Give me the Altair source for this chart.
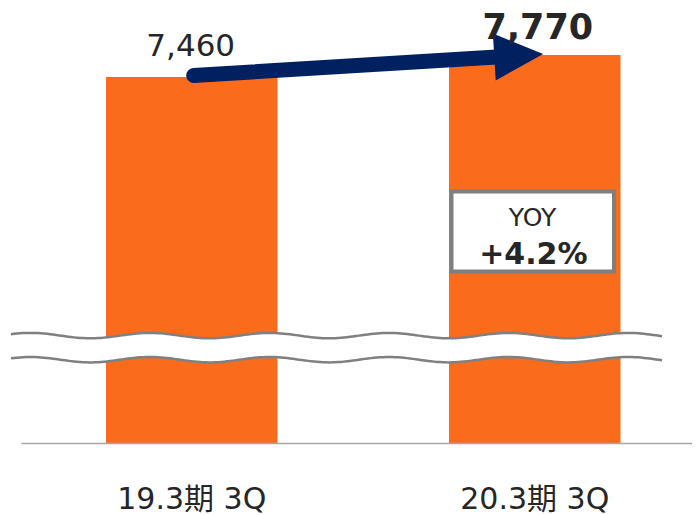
import math
import altair as alt
import pandas as pd

# ---- data ----
categories = ["19.3期 3Q", "20.3期 3Q"]
values = [7460, 7770]
value_labels = ["7,460", "7,770"]
yoy_title = "YOY"
yoy_value = "+4.2%"

# ---- styling ----
ORANGE = "#FA6B1C"
NAVY = "#002060"
TEXT = "#262626"
GRAY = "#808080"
FONT = "DejaVu Sans, Noto Sans CJK JP"

W, H = 671, 435
Y_DOMAIN = [2302.7, 8432.3]  # broken value axis (break drawn as wave)

bars_df = pd.DataFrame({"cat": categories, "value": values, "label": value_labels})
arrow_df = pd.DataFrame({"cat": [categories[0]], "value": [values[0]],
                         "cat2": [categories[1]], "value2": [values[1]]})

x_scale = alt.Scale(domain=categories, paddingInner=0.5, paddingOuter=0.2281, align=0.543)
y_scale = alt.Scale(domain=Y_DOMAIN, zero=False, nice=False)

x_axis = alt.Axis(title=None, labelAngle=0, ticks=False, labelPadding=56,
                  labelBaseline="middle", labelFont=FONT, labelFontSize=30,
                  labelColor=TEXT, domainColor="#A6A6A6", domainWidth=1.5,
                  grid=False, zindex=1)
x_enc = alt.X("cat:N", scale=x_scale, axis=x_axis)
y_enc = alt.Y("value:Q", scale=y_scale, axis=None)

bars = alt.Chart(bars_df).mark_bar(color=ORANGE, clip=True).encode(x=x_enc, y=y_enc)

# ---- axis-break wave (decoration) ----
WAVE_X0, WAVE_X1 = -10.0, 641.0
WAVE_Y = [327.6, 351.7]
WAVE_AMP = 2.7
WAVE_PERIOD = 119.5
WAVE_CREST = 9.5
cx = (WAVE_X0 + WAVE_X1) / 2
cy = sum(WAVE_Y) / 2
s = (WAVE_X1 - WAVE_X0) / 2


def wave_pts(yc):
    n = int((WAVE_X1 - WAVE_X0) / 3)
    pts = []
    for i in range(n + 1):
        x = WAVE_X0 + (WAVE_X1 - WAVE_X0) * i / n
        y = yc - WAVE_AMP * math.cos(2 * math.pi * (x - WAVE_CREST) / WAVE_PERIOD)
        pts.append(((x - cx) / s, (y - cy) / s))
    return pts


def seg(pts, start="M"):
    out = []
    for i, (a, b) in enumerate(pts):
        out.append(("%s%.5f,%.5f" % (start if i == 0 else "L", a, b)))
    return "".join(out)


up = wave_pts(WAVE_Y[0])
lo = wave_pts(WAVE_Y[1])
band_path = seg(up) + seg(list(reversed(lo)), start="L") + "Z"
line_path = seg(up) + seg(lo)
wave_size = (2 * s) ** 2

wave_band = alt.Chart(bars_df.iloc[[0]]).mark_point(
    shape=band_path, filled=True, fill="white", strokeWidth=0, opacity=1
).encode(x=alt.value(cx), y=alt.value(cy), size=alt.value(wave_size))

wave_lines = alt.Chart(bars_df.iloc[[0]]).mark_point(
    shape=line_path, filled=False, stroke=GRAY, strokeWidth=2.5, opacity=1
).encode(x=alt.value(cx), y=alt.value(cy), size=alt.value(wave_size))

# ---- arrow ----
arrow_line = alt.Chart(arrow_df).mark_rule(
    color=NAVY, strokeWidth=15, strokeCap="round",
    xOffset=2, yOffset=-1.5, x2Offset=-30, y2Offset=1.4
).encode(x=x_enc, y=y_enc, x2="cat2:N", y2="value2:Q")

arrow_head = alt.Chart(bars_df.iloc[[1]]).mark_point(
    shape="M-1,-0.96L1,0L-1,0.96Z", filled=True, fill=NAVY, strokeWidth=0,
    opacity=1, size=2401, angle=356.5, xOffset=-16, yOffset=0.5
).encode(x=x_enc, y=y_enc)

# ---- value labels ----
lab1 = alt.Chart(bars_df.iloc[[0]]).mark_text(
    font=FONT, fontSize=31, color=TEXT, baseline="middle", dy=-30, dx=-1
).encode(x=x_enc, y=y_enc, text="label:N")

lab2 = alt.Chart(bars_df.iloc[[1]]).mark_text(
    font=FONT, fontSize=35, fontWeight="bold", color=TEXT, baseline="middle", dy=-27, dx=3
).encode(x=x_enc, y=y_enc, text="label:N")

# ---- YOY box ----
yoy_df = pd.DataFrame({"t": [yoy_title], "v": [yoy_value]})
box = alt.Chart(yoy_df).mark_rect(fill="white", stroke="#7F7F7F", strokeWidth=4).encode(
    x=alt.value(430.5), x2=alt.value(593), y=alt.value(183.5), y2=alt.value(263.5)
)
yoy_t = alt.Chart(yoy_df).mark_text(
    font=FONT, fontSize=25, color=TEXT, baseline="middle"
).encode(x=alt.value(511.5), y=alt.value(209.6), text="t:N")
yoy_v = alt.Chart(yoy_df).mark_text(
    font=FONT, fontSize=30, fontWeight="bold", color=TEXT, baseline="middle"
).encode(x=alt.value(512.3), y=alt.value(246.7), text="v:N")

chart = alt.layer(
    bars, wave_band, wave_lines, arrow_line, arrow_head, lab1, lab2, box, yoy_t, yoy_v
).properties(
    width=W, height=H, autosize="none",
    padding={"left": 13, "top": 0, "right": 0, "bottom": 72},
    background="white",
).configure_view(strokeWidth=0)

chart.save("out.html", embed_options={"renderer": "svg", "actions": False})
